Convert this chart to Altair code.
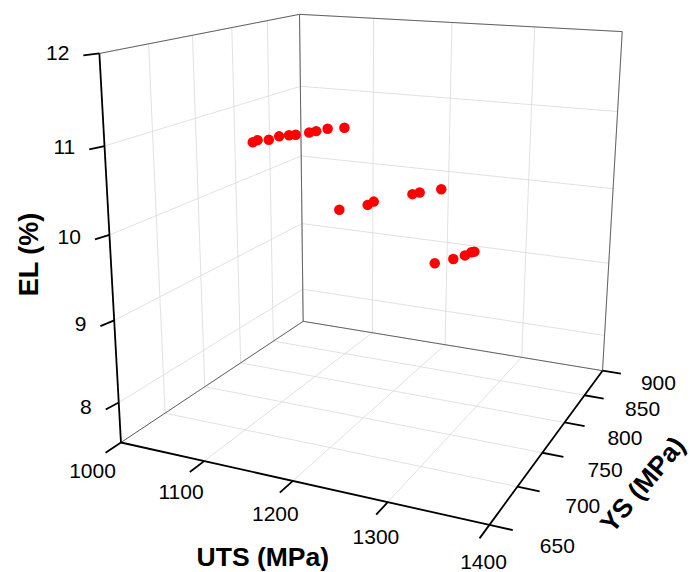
import numpy as np
import pandas as pd
import altair as alt

# ---------------- data ----------------
UTS = [1119, 1118, 1127, 1128, 1134, 1139, 1146, 1149, 1154, 1167,
       1205, 1222, 1222, 1245, 1249, 1264,
       1302, 1313, 1319, 1321, 1323]
YS = [698, 705, 709, 721, 727, 730, 740, 746, 756, 764,
      708, 726, 735, 763, 769, 783,
      714, 727, 737, 745, 747]
EL = [11.0, 11.0, 11.0, 11.0, 11.0, 11.0, 11.0, 11.0, 11.0, 11.0,
      10.3, 10.3, 10.3, 10.3, 10.3, 10.3,
      9.8, 9.8, 9.8, 9.8, 9.8]

UTS_TICKS = [1000, 1100, 1200, 1300, 1400]
YS_TICKS = [650, 700, 750, 800, 850, 900]
EL_TICKS = [8, 9, 10, 11, 12]
UTS_RANGE = (1000, 1400)
YS_RANGE = (650, 900)
EL_RANGE = (7.5, 12)

W, H = 690, 572

# ---------------- camera (perspective view) calibration ----------------
# normalised box coordinates (u, v, w) -> screen position of the box
CALIB = [
    ((0, 0, 0), (122, 442)), ((1, 0, 0), (487, 525)), ((1, 1, 0), (602, 369)),
    ((0, 1, 0), (303, 322)), ((0, 0, 1), (99, 53)), ((0, 1, 1), (300, 14)),
    ((1, 1, 1), (622, 32)),
    ((0, 0, 0.7778), (106, 146)), ((0, 0, 0.5556), (108, 236)),
    ((0, 0, 0.3333), (115, 320)), ((0, 0, 0.1111), (118, 403)),
    ((0.25, 0, 0), (203, 461)), ((0.5, 0, 0), (293, 480)), ((0.75, 0, 0), (388, 502)),
    ((1, 0.2, 0), (520, 487)), ((1, 0.4, 0), (543, 453)),
    ((1, 0.6, 0), (564, 423)), ((1, 0.8, 0), (585, 396)),
    ((0, 1, 0.7778), (300, 86)), ((0, 1, 0.5556), (301, 156)),
    ((0, 1, 0.3333), (302, 224)), ((0, 1, 0.1111), (303, 289)),
]
A, b = [], []
for (u, v, w), (x, y) in CALIB:
    A.append([u, v, w, 1, 0, 0, 0, 0, -x * u, -x * v, -x * w]); b.append(x)
    A.append([0, 0, 0, 0, u, v, w, 1, -y * u, -y * v, -y * w]); b.append(y)
p = np.linalg.lstsq(np.array(A, float), np.array(b, float), rcond=None)[0]
P = np.append(p, 1.0).reshape(3, 4)


def proj(u, v, w):
    X = P @ np.array([u, v, w, 1.0])
    return float(X[0] / X[2]), float(X[1] / X[2])


def nu(val):
    return (val - UTS_RANGE[0]) / (UTS_RANGE[1] - UTS_RANGE[0])


def nv(val):
    return (val - YS_RANGE[0]) / (YS_RANGE[1] - YS_RANGE[0])


def nw(val):
    return (val - EL_RANGE[0]) / (EL_RANGE[1] - EL_RANGE[0])


def seg(a, c):
    x1, y1 = proj(*a)
    x2, y2 = proj(*c)
    return {"x": x1, "y": y1, "x2": x2, "y2": y2}


# grid lines on the three back panes
grid = []
for t in UTS_TICKS:
    u = nu(t)
    grid.append(seg((u, 0, 0), (u, 1, 0)))
    grid.append(seg((u, 1, 0), (u, 1, 1)))
for t in YS_TICKS:
    v = nv(t)
    grid.append(seg((0, v, 0), (1, v, 0)))
    grid.append(seg((0, v, 0), (0, v, 1)))
for t in EL_TICKS:
    w = nw(t)
    grid.append(seg((0, 1, w), (1, 1, w)))
    grid.append(seg((0, 0, w), (0, 1, w)))
grid_df = pd.DataFrame(grid)

# thin box edges
box = [seg((0, 0, 1), (0, 1, 1)), seg((0, 1, 1), (1, 1, 1)), seg((1, 1, 0), (1, 1, 1)),
       seg((0, 1, 0), (0, 1, 1)), seg((0, 1, 0), (1, 1, 0)), seg((0, 0, 0), (0, 1, 0))]
box_df = pd.DataFrame(box)

# axes and ticks
UTS_TICK = -0.065
YS_TICK = 1.055
axes = [seg((0, 0, 0), (0, 0, 1)), seg((0, 0, 0), (1, 0, 0)), seg((1, 0, 0), (1, 1, 0))]
el_lab, uts_lab, ys_lab = [], [], []
for t in EL_TICKS:
    w = nw(t)
    k = (t - EL_TICKS[0]) / (EL_TICKS[-1] - EL_TICKS[0])
    ax_, ay_ = proj(0, 0, w)
    ex, ey = ax_ - 13 - 3 * k, ay_ + 7 - 5 * k
    axes.append({"x": ax_, "y": ay_, "x2": ex, "y2": ey})
    el_lab.append({"x": ex - 14, "y": ey - 1.5, "text": str(t)})
for t in UTS_TICKS:
    u = nu(t)
    axes.append(seg((u, 0, 0), (u, UTS_TICK, 0)))
    ex, ey = proj(u, UTS_TICK, 0)
    uts_lab.append({"x": ex - 13 + 17 * u, "y": ey + 19 + 6 * u, "text": str(t)})
for t in YS_TICKS:
    v = nv(t)
    axes.append(seg((1, v, 0), (YS_TICK, v, 0)))
    ex, ey = proj(YS_TICK, v, 0)
    ys_lab.append({"x": ex + 27 - 7 * v, "y": ey + 17 - 7 * v, "text": str(t)})
axes_df = pd.DataFrame(axes)

# data points
pts = []
for a_, b_, c_ in zip(UTS, YS, EL):
    x, y = proj(nu(a_), nv(b_), nw(c_))
    pts.append({"x": x, "y": y, "UTS": a_, "YS": b_, "EL": c_})
pts_df = pd.DataFrame(pts)

# axis titles
tx, ty = proj(0.5, UTS_TICK, 0)
sx, sy = proj(YS_TICK, 0.5, 0)
lx, ly = proj(0, 0, 0.5)
titles = {
    "uts": {"x": tx - 17, "y": ty + 65, "text": "UTS (MPa)"},
    "ys": {"x": sx + 69, "y": sy + 44, "text": "YS (MPa)"},
    "el": {"x": lx - 81, "y": ly - 2, "text": "EL (%)"},
}

FONT = "Liberation Sans"
xs = alt.Scale(domain=[0, W], nice=False, zero=False)
ysc = alt.Scale(domain=[0, H], reverse=True, nice=False, zero=False)
X = alt.X("x:Q", scale=xs, axis=None)
Y = alt.Y("y:Q", scale=ysc, axis=None)


def rules(df, color, width):
    return alt.Chart(df).mark_rule(color=color, strokeWidth=width).encode(
        x=X, y=Y, x2="x2:Q", y2="y2:Q")


def texts(rows, align, size=21, bold=False, angle=0):
    return alt.Chart(pd.DataFrame(rows)).mark_text(
        align=align, baseline="middle", font=FONT, fontSize=size,
        fontWeight="bold" if bold else "normal", angle=angle, color="black"
    ).encode(x=X, y=Y, text="text:N")


layers = [
    rules(grid_df, "#d9d9d9", 0.8),
    rules(box_df, "#555555", 0.9),
    rules(axes_df, "black", 1.8),
    alt.Chart(pts_df).mark_circle(color="#ff0000", size=110, opacity=1).encode(x=X, y=Y),
    texts(el_lab, "right"),
    texts(uts_lab, "center"),
    texts(ys_lab, "left"),
    texts([titles["uts"]], "center", 26.5, True),
    texts([titles["ys"]], "center", 26.5, True, 310),
    texts([titles["el"]], "center", 27, True, 270),
]

chart = alt.layer(*layers).properties(
    width=W, height=H, padding=0, autosize="none"
).configure_view(stroke=None)

chart.save("out.html", embed_options={"renderer": "svg", "actions": False})
